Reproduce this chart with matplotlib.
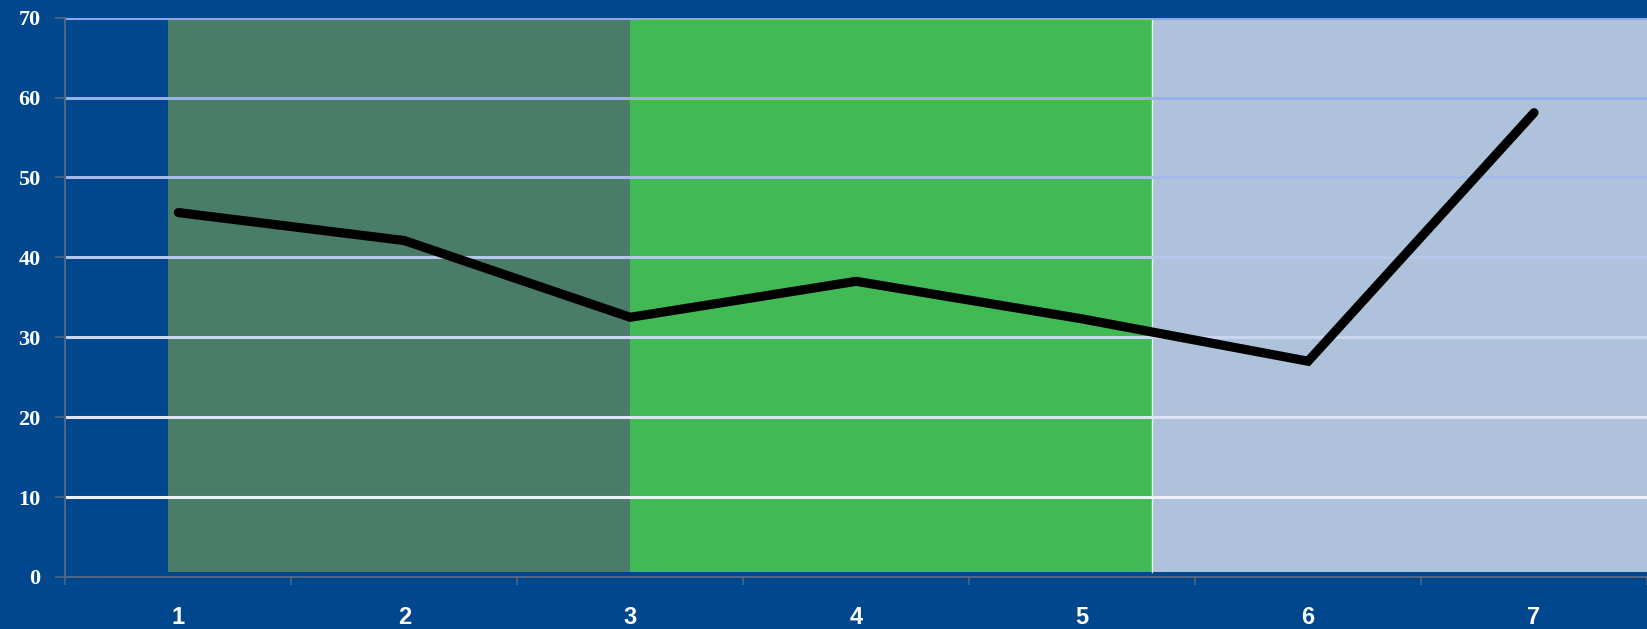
import matplotlib
matplotlib.use("Agg")
import matplotlib.pyplot as plt
import numpy as np

# ── Data ──────────────────────────────────
categories = ["1", "2", "3", "4", "5", "6", "7"]
values     = [45.6, 42.1, 32.5, 37.0, 32.3, 27.0, 58.1]

band_starts = [0.953, 3.0, 5.31]
band_ends   = [3.0, 5.31, 7.6]
band_colors = ["#4A7D68", "#41BA55", "#AEC3DB"]

y_ticks     = [0, 10, 20, 30, 40, 50, 60, 70]
grid_levels = [10, 20, 30, 40, 50, 60, 70]
grid_colors = ["#EDF1FA", "#DEE4F5", "#CBD6F0", "#B6C7EC", "#A5BAE8", "#97B0E6", "#8CA8E6"]

BG = "#00478E"

fig = plt.figure(figsize=(16.47, 6.29), dpi=100, facecolor=BG)
ax = fig.add_axes([0.0397, 0.0827, 0.9603, 0.8893])
ax.set_facecolor(BG)

x = np.arange(1, len(categories) + 1)

# ── Background bands ──────────────────────
for x0, x1, c in zip(band_starts, band_ends, band_colors):
    ax.fill_between([x0, x1], 0.6, 70, color=c, lw=0, zorder=1)
# thin light edge between green and light-blue bands
ax.axvline(band_starts[2], ymin=0.6 / 70, ymax=1, color="#E8F0E8", lw=1, zorder=1.5)

# ── Gridlines ─────────────────────────────
for lvl, c in zip(grid_levels, grid_colors):
    ax.axhline(lvl, color=c, lw=2.2, zorder=2)

# ── Line ──────────────────────────────────
ax.plot(x, values, color="black", lw=6.6, solid_capstyle="round",
        solid_joinstyle="miter", zorder=3)

# ── Axes ──────────────────────────────────
ax.set_xlim(0.5, 7.455)
ax.set_ylim(0, 70)

ax.set_xticks(x)
ax.set_xticklabels(categories, fontfamily="Liberation Sans", fontweight="bold",
                   fontsize=17, color="white")
ax.set_xticks(np.arange(0.5, 8.0, 1.0), minor=True)
ax.tick_params(axis="x", which="major", length=0, pad=21)
ax.tick_params(axis="x", which="minor", length=6, width=1.2, color="#4F6585",
               direction="out")

ax.set_yticks(y_ticks)
ax.set_yticklabels([str(v) for v in y_ticks], fontfamily="Liberation Serif",
                   fontweight="bold", fontsize=16, color="white")
ax.tick_params(axis="y", length=7, width=1.2, color="#4F6585", pad=11)

for side in ["top", "right"]:
    ax.spines[side].set_visible(False)
for side in ["left", "bottom"]:
    ax.spines[side].set_color("#4F6585")
    ax.spines[side].set_linewidth(1.5)
ax.spines["bottom"].set_zorder(0.5)

plt.savefig("out.png", dpi=100, facecolor=BG)
plt.close()
